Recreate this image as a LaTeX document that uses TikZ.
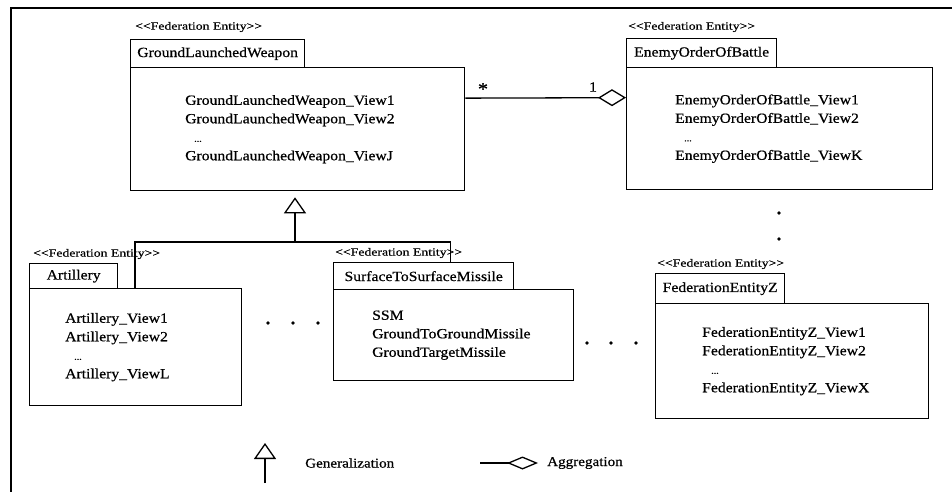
\documentclass[tikz,border=0pt]{standalone}
\usepackage{fontspec}
\setmainfont{Liberation Serif}
\newfontfamily\umlfont[FakeStretch=1.12, FakeBold=0.6]{Liberation Serif}
\newfontfamily\stereofont[FakeStretch=1.25, FakeBold=0.6]{Liberation Serif}
\usetikzlibrary{arrows.meta}
% stereotype text, with kerns so that << and >> stay two characters
\newcommand\stereotype{<\kern0pt<Federation Entity>\kern0pt>}

\begin{document}
\begin{tikzpicture}[x=1pt,y=-1pt,
  box/.style={draw, line width=1.3pt, inner sep=0pt, anchor=north west,
    font=\umlfont\fontsize{14}{18.5}\selectfont},
  txt/.style={font=\umlfont\fontsize{14}{18.5}\selectfont, inner sep=0pt,
    anchor=west, align=left},
  stereo/.style={font=\stereofont\fontsize{11}{12}\selectfont, inner sep=0pt,
    anchor=west},
  mult/.style={font=\umlfont\fontsize{14}{14}\selectfont, inner sep=0pt},
  legendtxt/.style={font=\umlfont\fontsize{13.5}{15}\selectfont, inner sep=0pt,
    anchor=west},
  wire/.style={line width=1.3pt},
  gentip/.style={-{Triangle[open, length=16pt, width=22pt, line width=1.3pt]}},
  aggtip/.style={-{Diamond[open, length=28pt, width=17pt, line width=1.3pt]}},
  aggsmall/.style={-{Diamond[open, length=31pt, width=13pt, line width=1.3pt]}},
  ellip/.style={fill, circle, inner sep=0pt, minimum size=3.8pt}
]
\useasboundingbox (0,0) rectangle (952,492);

% outer frame
\draw[line width=1.6pt] (11,492) -- (11,8) -- (952,8);

% GroundLaunchedWeapon
\node[stereo] (glws) at (135,27) {\stereotype};
\node[box, minimum width=174pt, minimum height=28pt] (glwn) at (130,39) {GroundLaunchedWeapon};
\node[box, minimum width=334pt, minimum height=123pt] (glwb) at (130,67) {};
\node[txt] (glwt) at ([xshift=55pt]glwb.west)
  {GroundLaunchedWeapon\_View1\\GroundLaunchedWeapon\_View2\\\hspace{9pt}{\fontsize{9}{9}\selectfont...}\\GroundLaunchedWeapon\_ViewJ};

% EnemyOrderOfBattle
\node[stereo] (eobs) at (628,27) {\stereotype};
\node[box, minimum width=150pt, minimum height=29pt] (eobn) at (626,38) {EnemyOrderOfBattle};
\node[box, minimum width=306pt, minimum height=122pt] (eobb) at (626,67) {};
\node[txt] (eobt) at ([xshift=49pt]eobb.west)
  {EnemyOrderOfBattle\_View1\\EnemyOrderOfBattle\_View2\\\hspace{9pt}{\fontsize{9}{9}\selectfont...}\\EnemyOrderOfBattle\_ViewK};

% Artillery
\node[stereo] (arts) at (33,254) {\stereotype};
\node[box, minimum width=88pt, minimum height=25pt] (artn) at (29,263) {Artillery};
\node[box, minimum width=212pt, minimum height=117pt] (artb) at (29,288) {};
\node[txt] (artt) at ([xshift=36pt]artb.west)
  {Artillery\_View1\\Artillery\_View2\\\hspace{9pt}{\fontsize{9}{9}\selectfont...}\\Artillery\_ViewL};

% SurfaceToSurfaceMissile
\node[stereo] (ssms) at (335,253) {\stereotype};
\node[box, minimum width=180pt, minimum height=27pt] (ssmn) at (333,262) {SurfaceToSurfaceMissile};
\node[box, minimum width=240pt, minimum height=91pt] (ssmb) at (333,289) {};
\node[txt] (ssmt) at ([xshift=39pt]ssmb.west)
  {SSM\\GroundToGroundMissile\\GroundTargetMissile};

% FederationEntityZ
\node[stereo] (fezs) at (657,264) {\stereotype};
\node[box, minimum width=129pt, minimum height=30pt] (fezn) at (655,273) {FederationEntityZ};
\node[box, minimum width=273pt, minimum height=115pt] (fezb) at (655,303) {};
\node[txt] (fezt) at ([xshift=47pt]fezb.west)
  {FederationEntityZ\_View1\\FederationEntityZ\_View2\\\hspace{9pt}{\fontsize{9}{9}\selectfont...}\\FederationEntityZ\_ViewX};

% aggregation between the weapon and the order of battle
\draw[wire, aggtip] ([yshift=31pt]glwb.east) -- ([yshift=31pt]eobb.west);
\node[mult, font=\umlfont\fontsize{18}{18}\selectfont] (mstar) at (483,89) {*};
\node[mult] (mone) at (593,87) {1};

% generalization tree
\coordinate (jn) at (295,242);
\draw[wire, gentip, shorten >=6pt] (jn) -- (jn |- glwb.south);
\draw[wire] ([xshift=106pt]artb.north west) |- (jn) -| ([xshift=27pt]ssmn.north);

% ellipses for further entities
\node[ellip] (e1) at (268,323) {};
\node[ellip] (e2) at (293,323) {};
\node[ellip] (e3) at (318,323) {};
\node[ellip] (e4) at (587,343) {};
\node[ellip] (e5) at (611,343) {};
\node[ellip] (e6) at (636,343) {};
\node[ellip] (e7) at (779,213) {};
\node[ellip] (e8) at (779,239) {};

% legend
\coordinate (glegbot) at (265,483);
\coordinate (glegtop) at (265,443);
\draw[wire, gentip] (glegbot) -- (glegtop);
\node[legendtxt] (glegtxt) at (305,463) {Generalization};
\coordinate (alegl) at (480,463);
\coordinate (alegr) at (538,463);
\draw[wire, aggsmall] (alegl) -- (alegr);
\node[legendtxt] (alegtxt) at (547,463) {Aggregation};
\end{tikzpicture}
\end{document}
